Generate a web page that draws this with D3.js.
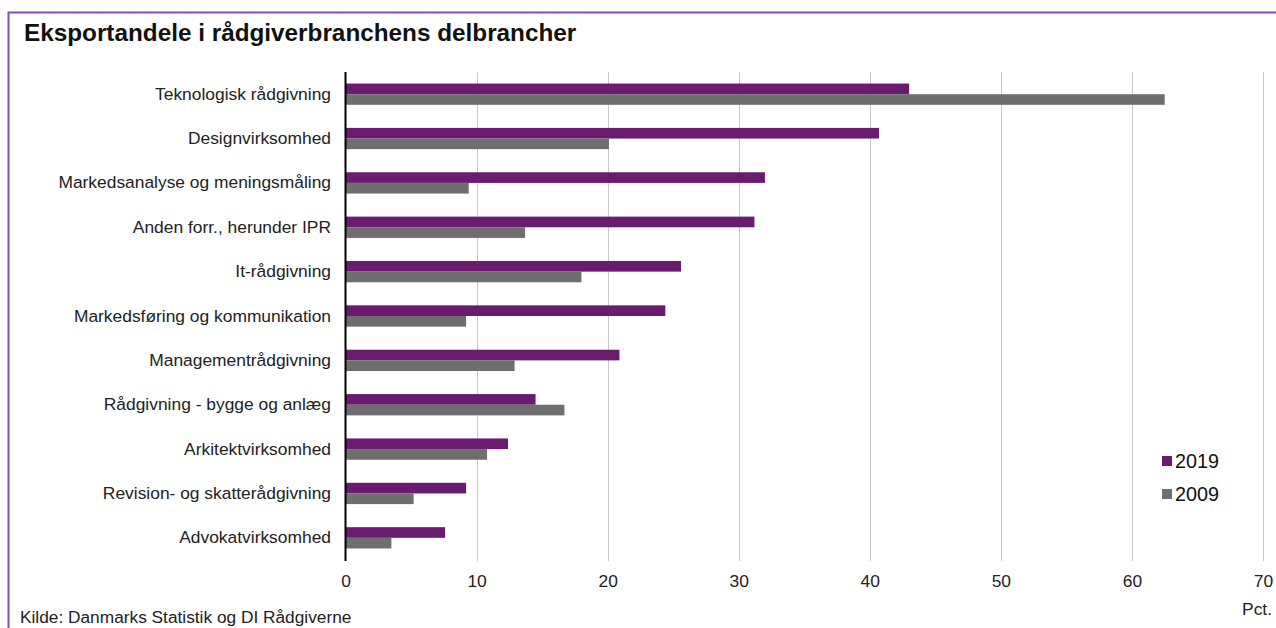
<!DOCTYPE html>
<html><head><meta charset="utf-8">
<script src="https://cdn.jsdelivr.net/npm/d3@7/dist/d3.min.js"></script>
<style>
body{margin:0;background:#fff;}
svg{display:block;font-family:"Liberation Sans",Arial,sans-serif;}
</style></head>
<body><svg id="c" width="1276" height="628"></svg>
<script>
const categories = ["Teknologisk rådgivning","Designvirksomhed","Markedsanalyse og meningsmåling","Anden forr., herunder IPR","It-rådgivning","Markedsføring og kommunikation","Managementrådgivning","Rådgivning - bygge og anlæg","Arkitektvirksomhed","Revision- og skatterådgivning","Advokatvirksomhed"];
const values2019 = [43.0,40.7,32.0,31.2,25.6,24.4,20.9,14.5,12.4,9.2,7.6];
const values2009 = [62.5,20.1,9.4,13.7,18.0,9.2,12.9,16.7,10.8,5.2,3.5];
const seriesNames = ["2019","2009"];
const xTicks = [0,10,20,30,40,50,60,70];
const colors = {"2019":"#6a1a6f","2009":"#6e6e6e"};

const svg = d3.select("#c");
// frame
svg.append("path").attr("d","M8.5,628 L8.5,12.5 L1276,12.5")
  .attr("fill","none").attr("stroke","#7f4fc0").attr("stroke-width",2);

svg.append("text").attr("x",24).attr("y",41).attr("font-size",24.3).attr("font-weight","bold")
  .attr("fill","#111").text("Eksportandele i rådgiverbranchens delbrancher");

const x = d3.scaleLinear().domain([0,70]).range([345.5,1263]);
const y = d3.scaleBand().domain(categories).range([72,560]).paddingInner(0.52).paddingOuter(0.26);
const sub = d3.scaleBand().domain(seriesNames).range([0,y.bandwidth()]);

// gridlines
svg.append("g").selectAll("line").data(xTicks.slice(1)).join("line")
  .attr("x1",d=>Math.round(x(d))+0.5).attr("x2",d=>Math.round(x(d))+0.5)
  .attr("y1",72).attr("y2",561).attr("stroke","#c8c8c8").attr("stroke-width",1);

// bars
const rows = categories.map((c,i)=>({c, v:{"2019":values2019[i],"2009":values2009[i]}}));
const g = svg.append("g");
rows.forEach(r=>{
  seriesNames.forEach(s=>{
    g.append("rect").attr("x",x(0)).attr("y",y(r.c)+sub(s))
      .attr("width",x(r.v[s])-x(0)).attr("height",sub.bandwidth())
      .attr("fill",colors[s]);
  });
});

// y axis line
svg.append("line").attr("x1",345.5).attr("x2",345.5).attr("y1",72).attr("y2",561)
  .attr("stroke","#000").attr("stroke-width",2);

// category labels
const yAxis = svg.append("g").attr("transform","translate(345,0)")
  .call(d3.axisLeft(y).tickSize(0).tickPadding(14));
yAxis.select(".domain").remove();
yAxis.selectAll("text").attr("font-size",17.4).attr("fill","#222")
  .attr("font-family","'Liberation Sans',Arial,sans-serif");

// x axis labels
const xAxis = svg.append("g").attr("transform","translate(0,561)")
  .call(d3.axisBottom(x).tickValues(xTicks).tickSize(0).tickPadding(14));
xAxis.select(".domain").remove();
xAxis.selectAll("text").attr("font-size",17.4).attr("fill","#222")
  .attr("font-family","'Liberation Sans',Arial,sans-serif");

svg.append("text").attr("x",1272).attr("y",615).attr("text-anchor","end")
  .attr("font-size",17.4).attr("fill","#222").text("Pct.");

// legend
const leg = svg.append("g");
seriesNames.forEach((s,i)=>{
  const yy = 461 + i*33;
  leg.append("rect").attr("x",1162).attr("y",yy-5).attr("width",10).attr("height",10).attr("fill",colors[s]);
  leg.append("text").attr("x",1175).attr("y",yy+7).attr("font-size",19.8).attr("fill","#111").text(s);
});

svg.append("text").attr("x",20).attr("y",623).attr("font-size",17.3).attr("fill","#222")
  .text("Kilde: Danmarks Statistik og DI Rådgiverne");
</script></body></html>
